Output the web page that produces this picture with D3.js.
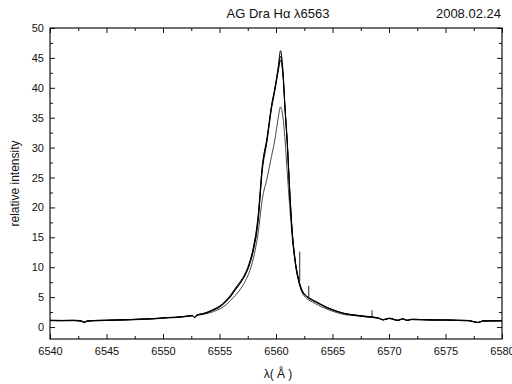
<!DOCTYPE html>
<html><head><meta charset="utf-8">
<script src="https://cdn.jsdelivr.net/npm/d3@7"></script>
<style>body{margin:0;background:#fff}svg{display:block}text{font-family:"Liberation Sans",Arial,sans-serif;fill:#111}</style>
</head><body>
<script>
const lambda = [6540,6541,6542,6542.8,6543,6543.3,6544,6545,6546,6547,6548,6549,6550,6550.5,6551,6552,6552.6,6552.8,6553,6553.5,6554,6554.5,6555,6555.5,6556,6556.4,6556.8,6557.2,6557.6,6558,6558.4,6558.8,6559.2,6559.6,6559.9,6560.2,6560.4,6560.6,6560.8,6561.0,6561.2,6561.4,6561.7,6562.0,6562.3,6562.7,6563,6563.5,6564,6564.5,6565,6566,6567,6568,6569,6569.5,6570,6570.8,6571.2,6571.6,6572,6573,6574,6575,6576,6577,6577.9,6578.3,6579,6580];
const specA = [1.1,1.1,1.1,1.0,0.75,1.0,1.1,1.15,1.2,1.25,1.3,1.4,1.5,1.6,1.6,1.8,1.9,1.6,2.0,2.2,2.5,2.9,3.4,4.2,5.2,6.3,7.3,8.5,10.3,13,17.8,26.8,31.3,36.8,39.8,43.5,46.2,43.3,36.8,31,23.5,17,11.2,8.0,6.2,5.2,4.8,4.3,3.8,3.3,2.9,2.3,2.0,1.75,1.55,1.2,1.45,1.1,1.4,1.1,1.3,1.25,1.2,1.2,1.15,1.1,0.75,1.0,1.05,1.05];
const specB = [1.15,1.1,1.15,1.05,0.8,1.05,1.1,1.15,1.2,1.25,1.35,1.4,1.55,1.6,1.65,1.8,1.95,1.65,2.05,2.25,2.55,3.0,3.5,4.3,5.4,6.5,7.5,8.7,10.5,13.4,18.3,27.2,31.6,37,40,43.2,45.3,42.8,36.5,30.6,23.2,16.8,11.0,7.9,6.1,5.1,4.7,4.2,3.7,3.3,2.9,2.3,2.0,1.8,1.55,1.25,1.5,1.15,1.4,1.15,1.3,1.25,1.2,1.2,1.15,1.1,0.8,1.05,1.05,1.1];
const specC = [1.1,1.05,1.1,1.0,0.8,1.0,1.05,1.1,1.15,1.2,1.3,1.35,1.5,1.55,1.6,1.75,1.9,1.6,2.0,2.15,2.45,2.85,3.3,4.1,5.1,6.2,7.2,8.4,10.1,12.8,17.4,26.4,31,36.5,39.5,42.8,44.6,42.5,36.3,30.5,23,16.5,10.9,7.8,6.0,5.1,4.7,4.2,3.7,3.2,2.85,2.25,1.95,1.7,1.5,1.2,1.45,1.1,1.35,1.1,1.25,1.2,1.15,1.15,1.1,1.05,0.75,1.0,1.0,1.05];
const specThin = [1.05,1.05,1.05,0.95,0.75,0.95,1.05,1.1,1.15,1.2,1.25,1.35,1.45,1.55,1.55,1.75,1.85,1.55,1.9,2.1,2.3,2.6,3.0,3.6,4.5,5.3,6.2,7.4,9.0,11.5,15.5,21.5,24.8,28.5,31.3,35,36.8,35.3,31.3,25.7,20.5,15.8,10.6,7.6,5.8,4.8,4.4,3.9,3.4,3.0,2.65,2.1,1.9,1.7,1.5,1.2,1.4,1.1,1.35,1.1,1.25,1.2,1.15,1.15,1.1,1.05,0.75,1.0,1.0,1.0];
const spikeLambda = [6562.1, 6562.9, 6568.5];
const spikeBase = [7.6, 4.8, 1.7];
const spikeTop = [12.6, 6.9, 2.8];
const xMajor = [6540,6545,6550,6555,6560,6565,6570,6575,6580];
const yMajor = [0,5,10,15,20,25,30,35,40,45,50];
const titleText = "AG Dra H\u03b1 \u03bb6563";
const dateText = "2008.02.24";

const W = 512, H = 384;
const m = {l:50, r:10, t:28, b:45};
const svg = d3.select("body").append("svg").attr("width", W).attr("height", H);
const x = d3.scaleLinear().domain([6540,6580]).range([m.l, W - m.r]);
const y = d3.scaleLinear().domain([-2,50]).range([H - m.b, m.t]);

const xMinor = d3.range(6540, 6580.01, 2.5).filter(v => !xMajor.includes(v));
const yMinor = d3.range(-2.5, 50.01, 2.5).filter(v => !yMajor.includes(v) && v >= -2);

function tickAxis(gen, tr, vals, len, lab) {
  const g = svg.append("g").attr("transform", tr).call(gen.tickValues(vals).tickSize(len).tickSizeOuter(0).tickPadding(lab ? 9 : 0));
  g.select(".domain").remove();
  g.selectAll("line").attr("stroke", "#111").attr("stroke-width", 1);
  if (!lab) g.selectAll("text").remove();
  else g.selectAll("text").attr("font-size", 11).attr("fill", "#111");
  return g;
}
const pBot = H - m.b, pTop = m.t, pLft = m.l, pRgt = W - m.r;
tickAxis(d3.axisBottom(x).tickFormat(d3.format("d")), `translate(0,${pBot})`, xMajor, -5, true).selectAll("text").attr("dy", "1em").attr("y", 5);
tickAxis(d3.axisBottom(x), `translate(0,${pBot})`, xMinor, -3, false);
tickAxis(d3.axisTop(x), `translate(0,${pTop})`, xMajor, -5, false);
tickAxis(d3.axisTop(x), `translate(0,${pTop})`, xMinor, -3, false);
tickAxis(d3.axisLeft(y).tickFormat(d3.format("d")), `translate(${pLft},0)`, yMajor, -5, true).selectAll("text").attr("x", -6);
tickAxis(d3.axisLeft(y), `translate(${pLft},0)`, yMinor, -3, false);
tickAxis(d3.axisRight(y), `translate(${pRgt},0)`, yMajor, -5, false);
tickAxis(d3.axisRight(y), `translate(${pRgt},0)`, yMinor, -3, false);

svg.append("rect").attr("x", pLft).attr("y", pTop).attr("width", pRgt - pLft).attr("height", pBot - pTop)
  .attr("fill", "none").attr("stroke", "#111").attr("stroke-width", 1.2);

const line = d3.line().curve(d3.curveMonotoneX).x((d, i) => x(lambda[i])).y(d => y(d));
const plot = svg.append("g");
plot.append("path").datum(specThin).attr("d", line).attr("fill", "none").attr("stroke", "#333").attr("stroke-width", 0.9);
[specC, specB, specA].forEach(s => {
  plot.append("path").datum(s).attr("d", line).attr("fill", "none").attr("stroke", "#000").attr("stroke-width", 1.0);
});
plot.selectAll("line.spike").data(spikeLambda).enter().append("line")
  .attr("x1", d => x(d)).attr("x2", d => x(d))
  .attr("y1", (d, i) => y(spikeBase[i])).attr("y2", (d, i) => y(spikeTop[i]))
  .attr("stroke", "#222").attr("stroke-width", 1);

svg.append("text").attr("x", 278).attr("y", 18).attr("text-anchor", "middle").attr("font-size", 13).text(titleText);
svg.append("text").attr("x", 501).attr("y", 18).attr("text-anchor", "end").attr("font-size", 13).text(dateText);
svg.append("text").attr("transform", `translate(19,${(pTop + pBot) / 2}) rotate(-90)`).attr("text-anchor", "middle").attr("font-size", 12).text("relative intensity");
svg.append("text").attr("x", 278).attr("y", 378).attr("text-anchor", "middle").attr("font-size", 12).text("\u03bb( \u00c5 )");
</script>
</body></html>
